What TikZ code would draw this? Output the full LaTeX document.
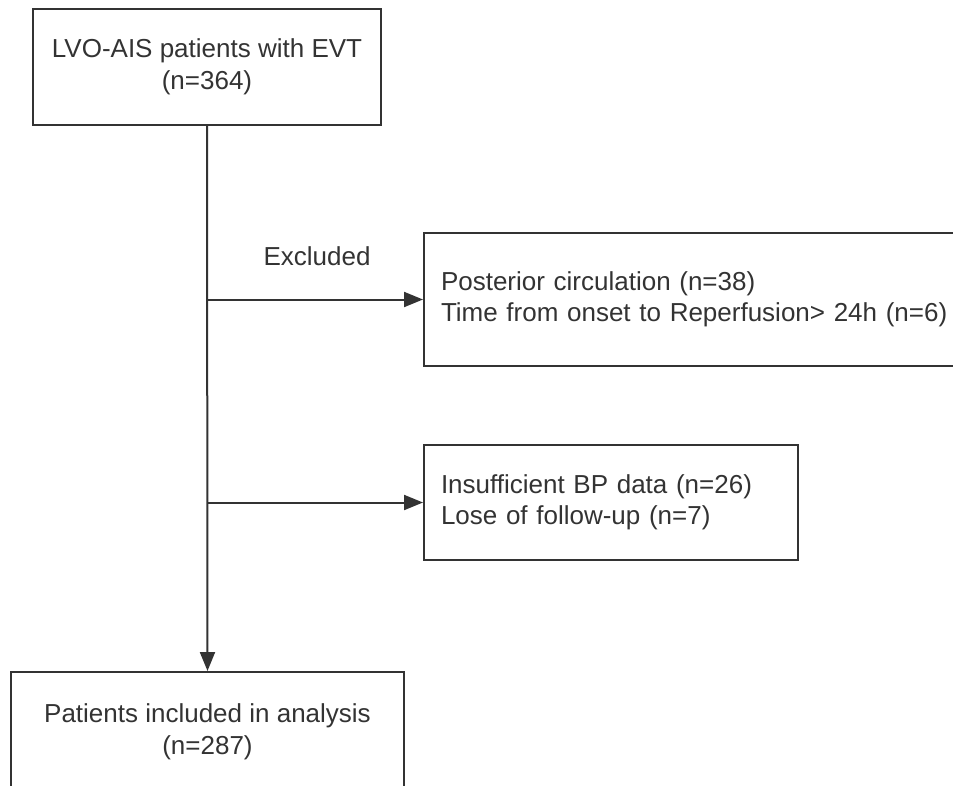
\documentclass[tikz,border=0pt]{standalone}
\usepackage{fontspec}
\setmainfont{Liberation Sans}
\usetikzlibrary{arrows.meta}
\definecolor{ink}{HTML}{333333}
\begin{document}
\begin{tikzpicture}[x=1pt,y=-1pt,
  box/.style={draw=ink, line width=2pt, text=ink, font=\fontsize{26}{31.5}\selectfont, inner sep=0pt},
  conn/.style={draw=ink, line width=2pt, -{Triangle[length=19pt,width=15pt]}}]
\useasboundingbox (0,0) rectangle (953,785);
\clip (0,0) rectangle (953,785);
\fill[white] (0,0) rectangle (953,785);
\node[box, minimum width=348pt, minimum height=116pt, align=center] (top) at (207,67)
  {LVO-AIS patients with EVT\\(n=364)};
\node[box, minimum width=393pt, minimum height=120pt, align=center] (incl) at (207.5,732)
  {Patients included in analysis\\(n=287)};
\node[box, anchor=west, minimum height=133pt, text width=523pt, inner xsep=17pt, align=left] (ex1) at (423,299.5)
  {Posterior circulation (n=38)\\Time from onset to Reperfusion> 24h (n=6)};
\node[box, anchor=west, minimum height=115pt, text width=340pt, inner xsep=17pt, align=left] (ex2) at (423,502.5)
  {Insufficient BP data (n=26)\\Lose of follow-up (n=7)};
\draw[conn] (top.south) -- (incl.north);
\coordinate (b1) at (top.south |- ex1.west);
\coordinate (b2) at (top.south |- ex2.west);
\draw[conn] (b1) -- (ex1.west);
\draw[conn] (b2) -- (ex2.west);
\node[text=ink, font=\fontsize{26}{30}\selectfont] (lab) at (317,256) {Excluded};
\end{tikzpicture}
\end{document}
